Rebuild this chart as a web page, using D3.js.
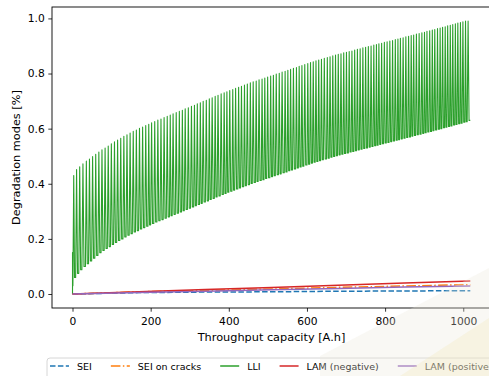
<!DOCTYPE html>
<html>
<head>
<meta charset="utf-8">
<script src="https://cdn.jsdelivr.net/npm/d3@7"></script>
<style>
  html, body { margin: 0; padding: 0; background: #fff; }
  svg { display: block; font-family: "DejaVu Sans", sans-serif; }
</style>
</head>
<body>
<div id="chart"></div>
<script>
// throughput [A.h] where each LLI cycle bottoms out
const lliTroughX = [
  1, 8, 16, 24, 33, 41, 49, 57, 65, 73,
  81, 89, 97, 105, 113, 121, 129, 137, 145, 153,
  161, 169, 177, 185, 193, 200, 208, 216, 224, 232,
  240, 248, 255, 263, 271, 279, 286, 294, 302, 310,
  317, 325, 332, 340, 348, 355, 363, 370, 378, 386,
  393, 400, 408, 415, 423, 430, 438, 445, 453, 460,
  468, 475, 483, 490, 497, 505, 512, 519, 527, 534,
  542, 549, 556, 563, 571, 578, 585, 592, 600, 607,
  614, 621, 628, 635, 642, 650, 657, 664, 671, 678,
  685, 692, 699, 706, 713, 720, 727, 734, 741, 748,
  755, 762, 769, 776, 782, 789, 796, 803, 810, 817,
  824, 831, 837, 844, 851, 858, 865, 871, 878, 885,
  892, 899, 905, 912, 919, 925, 932, 939, 945, 952,
  958, 965, 971, 978, 984, 991, 997, 1004, 1010, 1018
];
const lliTroughs = [
  0.03, 0.06, 0.075, 0.088, 0.10, 0.11, 0.12, 0.13, 0.14, 0.15,
  0.158, 0.165, 0.172, 0.18, 0.187, 0.194, 0.2, 0.207, 0.213, 0.219,
  0.225, 0.23, 0.236, 0.241, 0.246, 0.251, 0.256, 0.261, 0.266, 0.27,
  0.275, 0.28, 0.284, 0.289, 0.293, 0.298, 0.302, 0.307, 0.311, 0.316,
  0.32, 0.325, 0.329, 0.334, 0.338, 0.343, 0.347, 0.352, 0.356, 0.361,
  0.365, 0.369, 0.373, 0.377, 0.381, 0.385, 0.389, 0.393, 0.397, 0.401,
  0.405, 0.408, 0.412, 0.415, 0.419, 0.422, 0.426, 0.429, 0.433, 0.436,
  0.44, 0.443, 0.447, 0.45, 0.454, 0.457, 0.461, 0.464, 0.468, 0.471,
  0.475, 0.478, 0.481, 0.484, 0.487, 0.49, 0.493, 0.496, 0.499, 0.502,
  0.505, 0.507, 0.51, 0.512, 0.515, 0.517, 0.52, 0.523, 0.525, 0.528,
  0.53, 0.533, 0.535, 0.538, 0.54, 0.543, 0.545, 0.548, 0.55, 0.553,
  0.555, 0.558, 0.56, 0.563, 0.565, 0.568, 0.57, 0.573, 0.575, 0.578,
  0.58, 0.583, 0.585, 0.588, 0.59, 0.593, 0.595, 0.598, 0.6, 0.603,
  0.605, 0.608, 0.61, 0.613, 0.615, 0.618, 0.62, 0.623, 0.625, 0.63
];
// peak of each cycle (one fewer than troughs)
const lliPeaks = [
  0.43, 0.452, 0.462, 0.472, 0.482, 0.49, 0.499, 0.507, 0.515, 0.523,
  0.53, 0.537, 0.545, 0.552, 0.559, 0.565, 0.572, 0.578, 0.584, 0.59,
  0.595, 0.601, 0.606, 0.611, 0.616, 0.621, 0.626, 0.631, 0.635, 0.64,
  0.645, 0.649, 0.654, 0.658, 0.663, 0.667, 0.672, 0.676, 0.681, 0.685,
  0.69, 0.694, 0.699, 0.703, 0.708, 0.712, 0.717, 0.721, 0.726, 0.73,
  0.734, 0.738, 0.742, 0.746, 0.75, 0.754, 0.758, 0.762, 0.766, 0.77,
  0.773, 0.777, 0.78, 0.784, 0.787, 0.791, 0.794, 0.798, 0.801, 0.805,
  0.808, 0.812, 0.815, 0.819, 0.822, 0.826, 0.829, 0.833, 0.836, 0.84,
  0.843, 0.846, 0.849, 0.852, 0.855, 0.858, 0.861, 0.864, 0.867, 0.87,
  0.872, 0.875, 0.877, 0.88, 0.882, 0.885, 0.888, 0.89, 0.893, 0.895,
  0.898, 0.90, 0.903, 0.905, 0.908, 0.91, 0.913, 0.915, 0.918, 0.92,
  0.923, 0.925, 0.928, 0.93, 0.933, 0.935, 0.938, 0.94, 0.943, 0.945,
  0.948, 0.95, 0.953, 0.955, 0.958, 0.96, 0.963, 0.965, 0.968, 0.97,
  0.973, 0.975, 0.978, 0.98, 0.983, 0.985, 0.988, 0.99, 0.99
];
// initial LLI spike at zero throughput
const lliStartX = [0, 0];
const lliStartY = [0, 0.15];

// slow modes, sampled along throughput
const slowX = [0, 170, 340, 510, 680, 850, 1018];
const seiValues = [0, 0.005, 0.007, 0.008, 0.010, 0.011, 0.012];
const seiCracksValues = [0, 0.008, 0.013, 0.018, 0.024, 0.029, 0.034];
const lamNegValues = [0, 0.008, 0.016, 0.024, 0.032, 0.040, 0.047];
const lamPosValues = [0, 0.005, 0.010, 0.015, 0.020, 0.025, 0.029];

const xTicks = [0, 200, 400, 600, 800, 1000];
const yTicks = [0.0, 0.2, 0.4, 0.6, 0.8, 1.0];
const seriesNames = ["SEI", "SEI on cracks", "LLI", "LAM (negative)", "LAM (positive)"];

const WIDTH = 489, HEIGHT = 376;
const AX_LEFT = 52, AX_RIGHT = 491, AX_TOP = 7, AX_BOTTOM = 308;
const COLORS = ["#1f77b4", "#ff7f0e", "#2ca02c", "#d62728", "#9467bd"];
const DASHES = ["5.5,2.4", "9.6,2.4,1.5,2.4", null, null, null];
// where in a cycle the LLI spike peaks and where it has fallen back
const PEAK_AT = 0.3, DROP_AT = 0.6;

const svg = d3.select("#chart").append("svg")
  .attr("width", WIDTH).attr("height", HEIGHT);

const x = d3.scaleLinear().domain([-52.5, 1071]).range([AX_LEFT, AX_RIGHT]);
const y = d3.scaleLinear().domain([-0.0508, 1.0414]).range([AX_BOTTOM, AX_TOP]);

svg.append("defs").append("clipPath").attr("id", "plot")
  .append("rect").attr("x", AX_LEFT).attr("y", AX_TOP)
  .attr("width", AX_RIGHT - AX_LEFT).attr("height", AX_BOTTOM - AX_TOP);

// build the lli polyline: trough, narrow spike, back down, next trough
const lliPts = lliStartX.map((v, i) => [v, lliStartY[i]]);
lliTroughX.forEach((t, k) => {
  lliPts.push([t, lliTroughs[k]]);
  if (k < lliPeaks.length) {
    const p = lliTroughX[k + 1] - t;
    lliPts.push([t + PEAK_AT * p, lliPeaks[k]]);
    lliPts.push([t + DROP_AT * p, lliTroughs[k + 1]]);
  }
});

const slowSeries = [seiValues, seiCracksValues, null, lamNegValues, lamPosValues];
const line = d3.line().x(d => x(d[0])).y(d => y(d[1]));

const plot = svg.append("g").attr("clip-path", "url(#plot)");
seriesNames.forEach((name, i) => {
  const pts = i === 2 ? lliPts : slowX.map((t, j) => [t, slowSeries[i][j]]);
  plot.append("path")
    .attr("d", line(pts))
    .attr("fill", "none")
    .attr("stroke", COLORS[i])
    .attr("stroke-width", i === 2 ? 1.1 : 1.5)
    .attr("stroke-linejoin", "round")
    .attr("stroke-dasharray", DASHES[i]);
});

// axes
const xAxis = svg.append("g")
  .attr("transform", `translate(0,${AX_BOTTOM})`)
  .call(d3.axisBottom(x).tickValues(xTicks).tickFormat(d3.format("d"))
    .tickSize(3.7).tickPadding(5.5).tickSizeOuter(0));
const yAxis = svg.append("g")
  .attr("transform", `translate(${AX_LEFT},0)`)
  .call(d3.axisLeft(y).tickValues(yTicks).tickFormat(d3.format(".1f"))
    .tickSize(3.7).tickPadding(3.5).tickSizeOuter(0));
[xAxis, yAxis].forEach(g => {
  g.select(".domain").remove();
  g.selectAll("line").attr("stroke", "#000").attr("stroke-width", 0.8);
  g.selectAll("text").attr("font-family", "DejaVu Sans").attr("font-size", 10.7).attr("fill", "#000");
});

// spines
svg.append("rect")
  .attr("x", AX_LEFT).attr("y", AX_TOP)
  .attr("width", AX_RIGHT - AX_LEFT).attr("height", AX_BOTTOM - AX_TOP)
  .attr("fill", "none").attr("stroke", "#000").attr("stroke-width", 0.9);

svg.append("text")
  .attr("x", (AX_LEFT + AX_RIGHT) / 2).attr("y", 341)
  .attr("text-anchor", "middle").attr("font-size", 11.3)
  .text("Throughput capacity [A.h]");
svg.append("text")
  .attr("transform", `translate(19.5,${(AX_TOP + AX_BOTTOM) / 2}) rotate(-90)`)
  .attr("text-anchor", "middle").attr("font-size", 11.3)
  .text("Degradation modes [%]");

// legend along the bottom
const legend = svg.append("g");
legend.append("rect")
  .attr("x", 47).attr("y", 358).attr("width", 460).attr("height", 30)
  .attr("rx", 3).attr("fill", "#fff").attr("fill-opacity", 0.8)
  .attr("stroke", "#cccccc").attr("stroke-width", 0.8);
let lx = 50;
seriesNames.forEach((name, i) => {
  legend.append("line")
    .attr("x1", lx).attr("x2", lx + 19).attr("y1", 366).attr("y2", 366)
    .attr("stroke", COLORS[i]).attr("stroke-width", 1.5)
    .attr("stroke-dasharray", DASHES[i]);
  const t = legend.append("text")
    .attr("x", lx + 27).attr("y", 370).attr("font-size", 9.5)
    .text(name);
  lx = lx + 27 + t.node().getComputedTextLength() + 19;
});

// faint watermark band in the lower right
svg.append("path")
  .attr("d", "M320,376 L320,356 L489,268 L489,376 Z")
  .attr("fill", "#ece8dc").attr("opacity", 0.3);
svg.append("path")
  .attr("d", "M400,376 L489,318 L489,376 Z")
  .attr("fill", "#f1e7b8").attr("opacity", 0.3);
</script>
</body>
</html>
